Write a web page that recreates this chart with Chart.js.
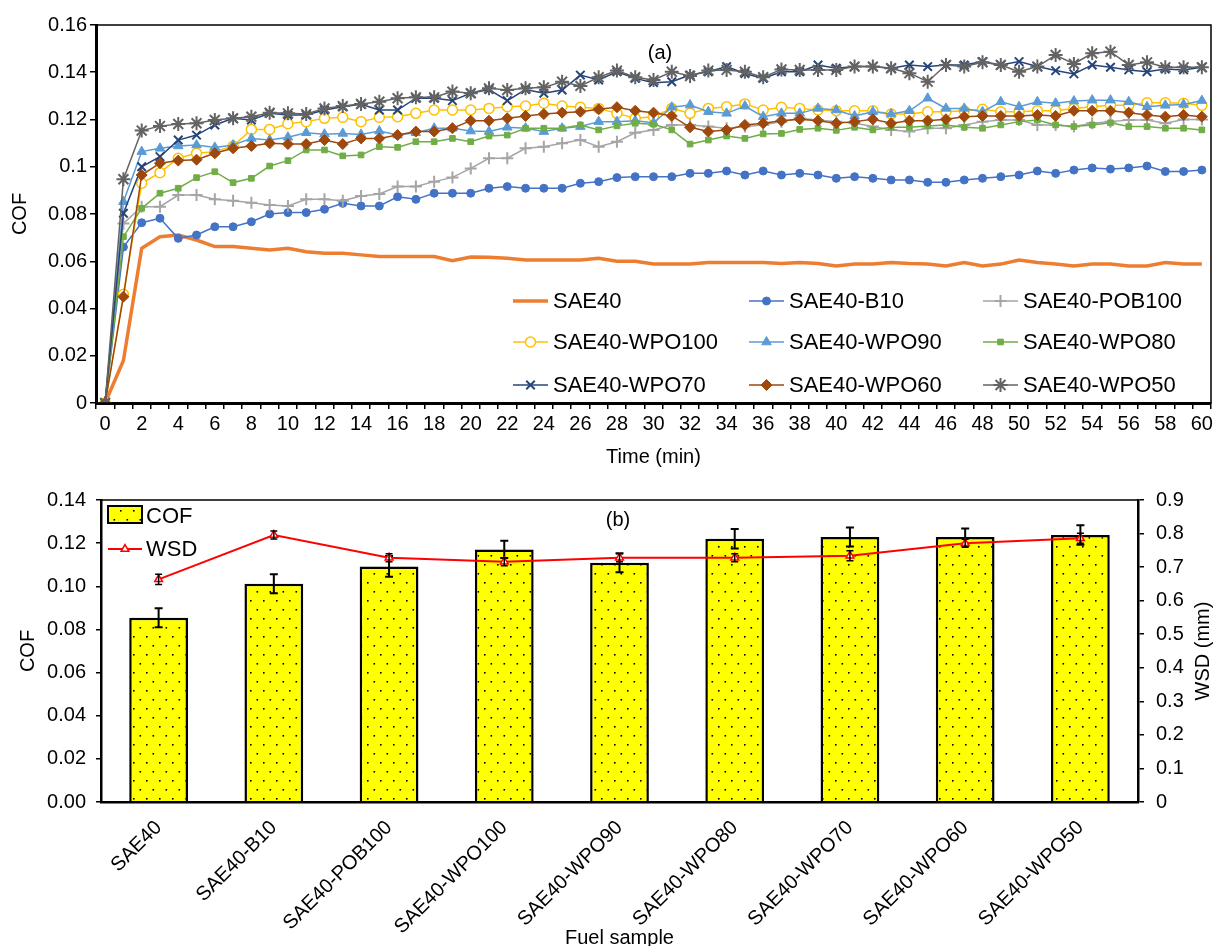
<!DOCTYPE html>
<html lang="en">
<head>
<meta charset="UTF-8">
<title>COF and WSD</title>
<style>
    html, body { margin:0; padding:0; background:#fff; }
    .plot { position:absolute; left:0; width:1215px; }
    #boxA { top:0; height:470px; }
    #boxB { top:470px; height:476px; }
</style>
</head>
<body>
<div class="plot" id="boxA"><canvas id="chartA"></canvas></div>
<div class="plot" id="boxB"><canvas id="chartB"></canvas></div>
<script src="https://cdn.jsdelivr.net/npm/chart.js"></script>
<script>
// ---- (a) COF vs time ----
const timeLabels = [];
for (let m = 0; m <= 60; m++) timeLabels.push(String(m));

const seriesNames = ['SAE40', 'SAE40-B10', 'SAE40-POB100', 'SAE40-WPO100', 'SAE40-WPO90',
                     'SAE40-WPO80', 'SAE40-WPO70', 'SAE40-WPO60', 'SAE40-WPO50'];

const sae40 = [0, 0.018, 0.0655, 0.0704, 0.0711, 0.069, 0.0662, 0.0662, 0.0655, 0.0648, 0.0655, 0.064, 0.0634, 0.0634, 0.0627, 0.062, 0.062, 0.062, 0.062, 0.0602, 0.0618, 0.0617, 0.0613, 0.0605, 0.0605, 0.0605, 0.0605, 0.0613, 0.06, 0.06, 0.0588, 0.0588, 0.0588, 0.0595, 0.0595, 0.0595, 0.0595, 0.059, 0.0595, 0.059, 0.058, 0.0588, 0.0588, 0.0595, 0.059, 0.0588, 0.058, 0.0595, 0.058, 0.0588, 0.0605, 0.0595, 0.0588, 0.058, 0.0588, 0.0588, 0.058, 0.058, 0.0595, 0.0588, 0.0588];
const b10 = [0, 0.066, 0.0763, 0.0782, 0.0697, 0.0711, 0.0746, 0.0746, 0.0767, 0.08, 0.0806, 0.0806, 0.082, 0.0845, 0.0834, 0.0834, 0.0873, 0.0862, 0.0888, 0.0888, 0.0888, 0.0909, 0.0916, 0.0909, 0.0909, 0.0909, 0.093, 0.0937, 0.0954, 0.0958, 0.0958, 0.0958, 0.0972, 0.0972, 0.0982, 0.0965, 0.0982, 0.0965, 0.0972, 0.0965, 0.0951, 0.0958, 0.0951, 0.0944, 0.0944, 0.0934, 0.0934, 0.0944, 0.0951, 0.0958, 0.0965, 0.0982, 0.0972, 0.0986, 0.0995, 0.099, 0.0995, 0.1003, 0.098, 0.098, 0.0986];
const pob100 = [0, 0.076, 0.0831, 0.0831, 0.088, 0.088, 0.0862, 0.0856, 0.0848, 0.0838, 0.0834, 0.0862, 0.0862, 0.0856, 0.0876, 0.0885, 0.0916, 0.0916, 0.0937, 0.0955, 0.0993, 0.1036, 0.1036, 0.1078, 0.1085, 0.1099, 0.1113, 0.1085, 0.1106, 0.1144, 0.1156, 0.1177, 0.1177, 0.117, 0.1163, 0.117, 0.1177, 0.1191, 0.1205, 0.1198, 0.1191, 0.1184, 0.117, 0.1156, 0.1149, 0.1163, 0.1163, 0.1177, 0.1191, 0.1198, 0.1198, 0.1177, 0.1177, 0.117, 0.1184, 0.1191, 0.1198, 0.1198, 0.1184, 0.12, 0.12];
const wpo100 = [0, 0.046, 0.093, 0.0975, 0.1036, 0.1057, 0.1064, 0.1088, 0.1158, 0.1158, 0.1182, 0.1191, 0.1205, 0.1209, 0.1191, 0.1209, 0.1212, 0.1226, 0.124, 0.124, 0.124, 0.1247, 0.1254, 0.1257, 0.1269, 0.1257, 0.1252, 0.1247, 0.1226, 0.1205, 0.1212, 0.1247, 0.1226, 0.1247, 0.1254, 0.1266, 0.124, 0.1252, 0.1247, 0.124, 0.1237, 0.1237, 0.1237, 0.1223, 0.1223, 0.1233, 0.1233, 0.1237, 0.1243, 0.1233, 0.1233, 0.1237, 0.1237, 0.1247, 0.1254, 0.126, 0.126, 0.1271, 0.1271, 0.1269, 0.126];
const wpo90 = [0, 0.0852, 0.1064, 0.1078, 0.1088, 0.1092, 0.1082, 0.1092, 0.112, 0.1113, 0.1125, 0.1144, 0.1138, 0.1141, 0.1137, 0.1151, 0.1134, 0.1144, 0.1163, 0.1163, 0.1151, 0.1149, 0.1167, 0.1163, 0.1149, 0.1163, 0.117, 0.1191, 0.1191, 0.1195, 0.1186, 0.1252, 0.1261, 0.1233, 0.1226, 0.1257, 0.1212, 0.1226, 0.1226, 0.1247, 0.124, 0.1215, 0.1233, 0.1223, 0.1237, 0.129, 0.1247, 0.1247, 0.1233, 0.1275, 0.1254, 0.1275, 0.1269, 0.1278, 0.1282, 0.1282, 0.1275, 0.1254, 0.126, 0.1264, 0.128];
const wpo80 = [0, 0.0704, 0.0824, 0.0888, 0.0909, 0.0954, 0.0979, 0.0933, 0.0951, 0.1003, 0.1026, 0.1071, 0.1071, 0.1046, 0.105, 0.1085, 0.1082, 0.1106, 0.1106, 0.112, 0.1106, 0.113, 0.1134, 0.1163, 0.1163, 0.1163, 0.1177, 0.1156, 0.1173, 0.1184, 0.118, 0.1156, 0.1096, 0.1113, 0.113, 0.112, 0.1139, 0.1141, 0.1158, 0.1163, 0.1154, 0.1167, 0.1156, 0.1167, 0.1167, 0.1173, 0.1177, 0.1167, 0.1163, 0.1177, 0.1191, 0.1198, 0.1177, 0.117, 0.1177, 0.1186, 0.117, 0.117, 0.1163, 0.1163, 0.1156];
const wpo70 = [0, 0.0803, 0.1, 0.1043, 0.1113, 0.1134, 0.1177, 0.1205, 0.1198, 0.1226, 0.1219, 0.1219, 0.124, 0.1254, 0.1264, 0.124, 0.124, 0.129, 0.129, 0.128, 0.1311, 0.1327, 0.128, 0.1327, 0.1311, 0.1325, 0.1388, 0.1367, 0.1402, 0.1374, 0.1356, 0.136, 0.1388, 0.1402, 0.1424, 0.1395, 0.1374, 0.1402, 0.1402, 0.1431, 0.1417, 0.1424, 0.1424, 0.1417, 0.1431, 0.1424, 0.1431, 0.1431, 0.1445, 0.1431, 0.1445, 0.1424, 0.1407, 0.1393, 0.1431, 0.1421, 0.141, 0.1402, 0.1414, 0.141, 0.1421];
const wpo60 = [0, 0.045, 0.0965, 0.1015, 0.1026, 0.103, 0.1057, 0.1078, 0.1088, 0.1099, 0.1096, 0.1096, 0.1113, 0.1096, 0.112, 0.112, 0.1134, 0.1149, 0.1149, 0.1163, 0.1195, 0.1195, 0.1205, 0.1215, 0.1223, 0.1229, 0.1233, 0.1243, 0.1252, 0.1237, 0.1229, 0.1215, 0.1167, 0.1149, 0.1156, 0.1177, 0.1184, 0.1195, 0.1201, 0.1195, 0.1184, 0.1191, 0.1201, 0.1184, 0.1195, 0.1195, 0.1201, 0.1212, 0.1215, 0.1215, 0.1215, 0.1219, 0.1215, 0.1237, 0.1237, 0.1237, 0.1229, 0.1219, 0.1212, 0.1219, 0.1212];
const wpo50 = [0, 0.0947, 0.1153, 0.1172, 0.1181, 0.1184, 0.1198, 0.1205, 0.1212, 0.1229, 0.1226, 0.1223, 0.1247, 0.1257, 0.1266, 0.1275, 0.129, 0.1294, 0.1294, 0.1318, 0.1311, 0.1332, 0.1325, 0.1332, 0.1336, 0.136, 0.1342, 0.1379, 0.1407, 0.1379, 0.1367, 0.1402, 0.1384, 0.1407, 0.141, 0.1402, 0.1379, 0.1412, 0.141, 0.141, 0.141, 0.1424, 0.1424, 0.1417, 0.1396, 0.136, 0.1431, 0.1424, 0.1442, 0.1431, 0.1402, 0.1424, 0.1473, 0.1435, 0.148, 0.1487, 0.1431, 0.1442, 0.1421, 0.1421, 0.1421];
const seriesData = [sae40, b10, pob100, wpo100, wpo90, wpo80, wpo70, wpo60, wpo50];

// ---- (b) averages per fuel sample ----
const samples = ['SAE40', 'SAE40-B10', 'SAE40-POB100', 'SAE40-WPO100', 'SAE40-WPO90',
                 'SAE40-WPO80', 'SAE40-WPO70', 'SAE40-WPO60', 'SAE40-WPO50'];
const cofMean = [0.0854, 0.1012, 0.1092, 0.1171, 0.1109, 0.122, 0.1228, 0.1228, 0.1238];
const cofErr  = [0.0044, 0.0044, 0.0048, 0.004, 0.0044, 0.0045, 0.0044, 0.004, 0.0045];
const wsd     = [0.6635, 0.7957, 0.728, 0.716, 0.728, 0.728, 0.734, 0.771, 0.786];
const wsdErr  = [0.015, 0.012, 0.012, 0.012, 0.012, 0.012, 0.015, 0.012, 0.015];

Chart.defaults.font.family = "'Liberation Sans', Arial, sans-serif";
Chart.defaults.color = '#000';

// line styles of the 9 series (Excel palette)
const looks = [
    {c:'#ED7D31', w:3.5, p:false},
    {c:'#4472C4', w:1.5, p:'circle', r:4, bw:1},
    {c:'#A5A5A5', w:1.5, p:'cross', r:6, bw:2},
    {c:'#FFC000', w:1.5, p:'circle', r:5, bw:1.5, fill:'#ffffff'},
    {c:'#5B9BD5', w:1.5, p:'triangle', r:5.5, bw:1},
    {c:'#70AD47', w:1.5, p:'rect', r:4, bw:1},
    {c:'#264478', w:1.5, p:'crossRot', r:6, bw:2},
    {c:'#9E480E', w:1.5, p:'rectRot', r:5.5, bw:1},
    {c:'#636363', w:1.5, p:'star', r:7, bw:2}
];

const datasetsA = seriesNames.map((name, i) => {
    const l = looks[i];
    return {
        label: name,
        data: seriesData[i],
        borderColor: l.c,
        backgroundColor: l.c,
        borderWidth: l.w,
        pointStyle: l.p || 'circle',
        pointRadius: l.p ? l.r : 0,
        pointBackgroundColor: l.fill || l.c,
        pointBorderColor: l.c,
        pointBorderWidth: l.bw || 1,
        tension: 0,
        order: seriesNames.length - i
    };
});

/* box round the plot area */
const framePlugin = {
    id: 'frame',
    afterDraw(chart, args, opts) {
        const {ctx, chartArea: a} = chart;
        ctx.save();
        ctx.strokeStyle = '#000';
        ctx.lineWidth = opts.width || 1.5;
        ctx.strokeRect(a.left, a.top, a.right - a.left, a.bottom - a.top);
        ctx.restore();
    }
};

/* free labels like (a), (b) */
const textPlugin = {
    id: 'texts',
    afterDraw(chart, args, opts) {
        const ctx = chart.ctx;
        (opts.items || []).forEach(t => {
            ctx.save();
            ctx.font = t.font;
            ctx.fillStyle = '#000';
            ctx.textAlign = 'center';
            ctx.textBaseline = 'middle';
            ctx.translate(t.x, t.y);
            if (t.rot) ctx.rotate(t.rot);
            ctx.fillText(t.text, 0, 0);
            ctx.restore();
        });
    }
};

/* legend of (a), 3 columns inside the plot */
const legendCols = [513, 749, 983];
const legendRows = [301, 342, 385];
const legendA = {
    id: 'legendA',
    afterDraw(chart) {
        const ctx = chart.ctx;
        chart.data.datasets.forEach((ds, i) => {
            const x = legendCols[i % 3], y = legendRows[Math.floor(i / 3)];
            const l = looks[i];
            ctx.save();
            ctx.strokeStyle = l.c;
            ctx.lineWidth = l.w;
            ctx.beginPath(); ctx.moveTo(x, y); ctx.lineTo(x + 35, y); ctx.stroke();
            if (l.p) {
                ctx.fillStyle = l.fill || l.c;
                ctx.lineWidth = l.bw || 1;
                Chart.helpers.drawPoint(ctx, {pointStyle: l.p, radius: l.r, rotation: 0, borderWidth: l.bw || 1}, x + 17.5, y);
            }
            ctx.fillStyle = '#000';
            ctx.font = "22px 'Liberation Sans', Arial, sans-serif";
            ctx.textBaseline = 'middle';
            ctx.fillText(ds.label, x + 40, y + 1);
            ctx.restore();
        });
    }
};

new Chart(document.getElementById('chartA'), {
    type: 'line',
    data: { labels: timeLabels, datasets: datasetsA },
    options: {
        animation: false,
        responsive: true,
        maintainAspectRatio: false,
        layout: { autoPadding: false, padding: { top: 25, right: 4, left: 0, bottom: 0 } },
        plugins: {
            legend: { display: false },
            tooltip: { enabled: false },
            frame: { width: 1.5 },
            texts: { items: [ {text: '(a)', x: 660, y: 53, font: "20px 'Liberation Sans', Arial, sans-serif"} ] }
        },
        scales: {
            x: {
                type: 'category',
                offset: true,
                grid: { display: true, offset: true, drawOnChartArea: false, drawTicks: true, tickLength: 6, color: '#000', lineWidth: 1.5 },
                border: { display: true, color: '#000', width: 3 },
                ticks: {
                    autoSkip: false, maxRotation: 0, minRotation: 0, padding: 3,
                    font: { size: 20 },
                    callback: function (v, i) { return i % 2 === 0 ? timeLabels[i] : ''; }
                },
                title: { display: true, text: 'Time (min)', font: { size: 20 }, padding: { top: 0, bottom: 1 } },
                afterFit: s => { s.height = 67; s.paddingLeft = 0; s.paddingRight = 0; }
            },
            y: {
                min: 0, max: 0.16,
                grid: { display: true, drawOnChartArea: false, drawTicks: true, tickLength: 6, color: '#000', lineWidth: 1.5 },
                border: { display: true, color: '#000', width: 3 },
                ticks: { stepSize: 0.02, padding: 3, font: { size: 20 }, callback: v => String(+v.toFixed(2)) },
                title: { display: true, text: 'COF', font: { size: 20 }, padding: { top: 8, bottom: 0 } },
                afterFit: s => { s.width = 96; }
            }
        }
    },
    plugins: [framePlugin, textPlugin, legendA]
});

// ---- chart (b) ----
const canvasB = document.getElementById('chartB');

function dotPattern(target) {
    const c = document.createElement('canvas');
    c.width = 13; c.height = 18;
    const g = c.getContext('2d');
    g.fillStyle = '#FFFF00';
    g.fillRect(0, 0, 13, 18);
    g.fillStyle = '#000';
    g.fillRect(3, 4, 1.6, 1.6);
    g.fillRect(9.5, 13, 1.6, 1.6);
    return target.getContext('2d').createPattern(c, 'repeat');
}
const yellowDots = dotPattern(canvasB);

/* error bars, read from dataset.errors */
const errorBars = {
    id: 'errorBars',
    afterDatasetDraw(chart, args) {
        const ds = chart.data.datasets[args.index];
        if (!ds.errors) return;
        const meta = args.meta;
        const scale = chart.scales[meta.yAxisID];
        const ctx = chart.ctx;
        ctx.save();
        ctx.strokeStyle = '#000';
        ctx.lineWidth = ds.errWidth || 2;
        const cap = ds.errCap || 4;
        meta.data.forEach((el, i) => {
            const v = ds.data[i], e = ds.errors[i];
            const yt = scale.getPixelForValue(v + e), yb = scale.getPixelForValue(v - e);
            ctx.beginPath();
            ctx.moveTo(el.x, yt); ctx.lineTo(el.x, yb);
            ctx.moveTo(el.x - cap, yt); ctx.lineTo(el.x + cap, yt);
            ctx.moveTo(el.x - cap, yb); ctx.lineTo(el.x + cap, yb);
            ctx.stroke();
        });
        ctx.restore();
    }
};

/* legend of (b), top left inside the plot */
const legendB = {
    id: 'legendB',
    afterDraw(chart) {
        const ctx = chart.ctx;
        ctx.save();
        ctx.fillStyle = yellowDots;
        ctx.fillRect(108, 36, 34, 17);
        ctx.strokeStyle = '#000';
        ctx.lineWidth = 2;
        ctx.strokeRect(108, 36, 34, 17);
        ctx.strokeStyle = '#FF0000';
        ctx.lineWidth = 2;
        ctx.beginPath(); ctx.moveTo(108, 79); ctx.lineTo(142, 79); ctx.stroke();
        ctx.fillStyle = '#fff';
        ctx.lineWidth = 1.5;
        Chart.helpers.drawPoint(ctx, {pointStyle: 'triangle', radius: 4.5, rotation: 0, borderWidth: 1.5}, 125, 79);
        ctx.fillStyle = '#000';
        ctx.font = "22px 'Liberation Sans', Arial, sans-serif";
        ctx.textBaseline = 'middle';
        ctx.fillText('COF', 146, 47);
        ctx.fillText('WSD', 146, 80);
        ctx.restore();
    }
};

new Chart(canvasB, {
    type: 'bar',
    data: {
        labels: samples,
        datasets: [
            {
                type: 'line',
                label: 'WSD',
                data: wsd,
                yAxisID: 'y2',
                borderColor: '#FF0000',
                borderWidth: 2,
                pointStyle: 'triangle',
                pointRadius: 4.5,
                pointBackgroundColor: '#ffffff',
                pointBorderColor: '#FF0000',
                pointBorderWidth: 1.5,
                errors: wsdErr, errWidth: 1.5, errCap: 3.5,
                order: 0
            },
            {
                type: 'bar',
                label: 'COF',
                data: cofMean,
                yAxisID: 'y',
                backgroundColor: yellowDots,
                borderColor: '#000',
                borderWidth: 2.5,
                categoryPercentage: 1,
                barPercentage: 0.51,
                errors: cofErr, errWidth: 2, errCap: 4,
                order: 1
            }
        ]
    },
    options: {
        animation: false,
        responsive: true,
        maintainAspectRatio: false,
        layout: { autoPadding: false, padding: { top: 30, right: 0, left: 0, bottom: 0 } },
        plugins: {
            legend: { display: false },
            tooltip: { enabled: false },
            frame: { width: 1.5 },
            texts: { items: [
                {text: '(b)', x: 618, y: 50, font: "20px 'Liberation Sans', Arial, sans-serif"},
                {text: 'WSD (mm)', x: 1203, y: 181, rot: -Math.PI / 2, font: "20px 'Liberation Sans', Arial, sans-serif"}
            ] }
        },
        scales: {
            x: {
                offset: true,
                grid: { display: false, drawTicks: false },
                border: { display: true, color: '#000', width: 2.5 },
                ticks: { autoSkip: false, minRotation: 45, maxRotation: 45, padding: 14, font: { size: 20 } },
                title: { display: true, text: 'Fuel sample', font: { size: 20, lineHeight: 0.8 }, padding: { top: 0, bottom: 0 } },
                afterFit: s => { s.height = 144; s.paddingLeft = 0; s.paddingRight = 0; }
            },
            y: {
                position: 'left',
                min: 0, max: 0.14,
                grid: { display: true, drawOnChartArea: false, drawTicks: true, tickLength: 5, color: '#000', lineWidth: 1.5 },
                border: { display: true, color: '#000', width: 2.5 },
                ticks: { stepSize: 0.02, padding: 10, font: { size: 20 }, callback: v => v.toFixed(2) },
                title: { display: true, text: 'COF', font: { size: 20 }, padding: { top: 16, bottom: 0 } },
                afterFit: s => { s.width = 101; }
            },
            y2: {
                position: 'right',
                min: 0, max: 0.9,
                grid: { display: true, drawOnChartArea: false, drawTicks: true, tickLength: 6, color: '#000', lineWidth: 1.5 },
                border: { display: true, color: '#000', width: 2.5 },
                ticks: { stepSize: 0.1, padding: 12, font: { size: 20 }, callback: v => String(+v.toFixed(1)) },
                afterFit: s => { s.width = 77; }
            }
        }
    },
    plugins: [framePlugin, textPlugin, errorBars, legendB]
});
</script>
</body>
</html>
